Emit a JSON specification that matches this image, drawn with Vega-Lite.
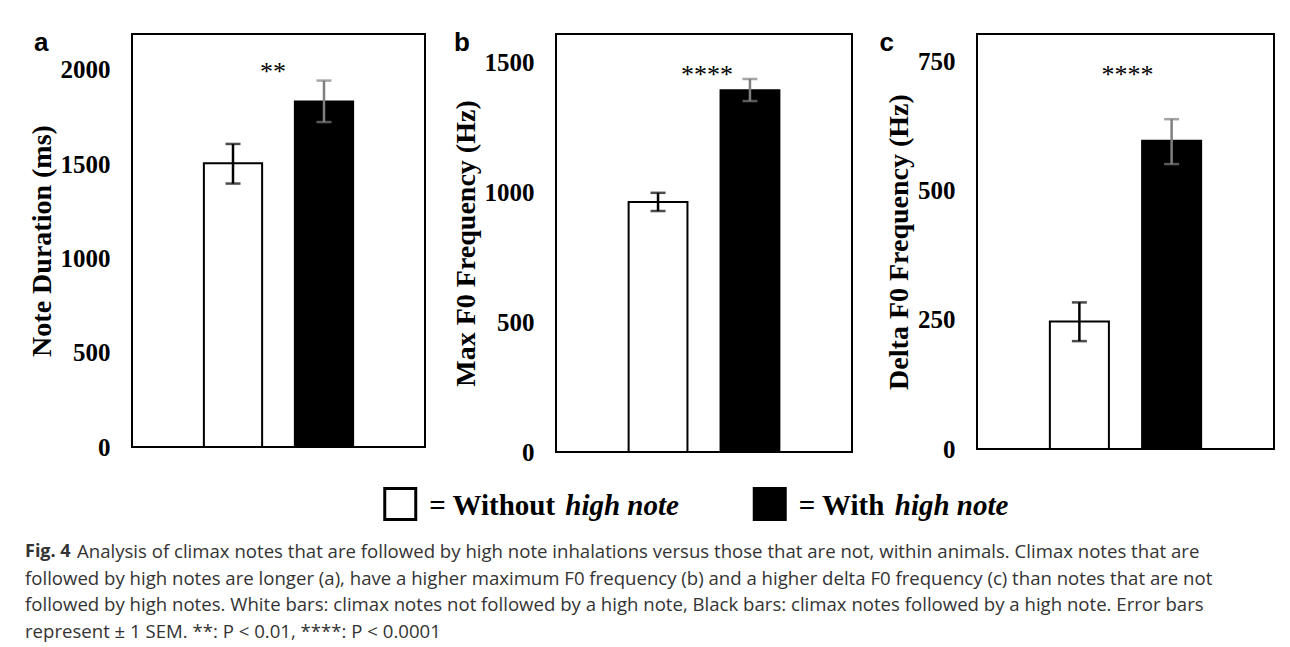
{
  "$schema": "https://vega.github.io/schema/vega-lite/v6.json",
  "background": "white",
  "padding": {"left": 25, "top": 29, "right": 0, "bottom": 0},
  "datasets": {
    "bars": [
      {"panel": "a", "group": "Without", "mean": 1505, "lo": 1397, "hi": 1607},
      {"panel": "a", "group": "With", "mean": 1832, "lo": 1723, "hi": 1943},
      {"panel": "b", "group": "Without", "mean": 962, "lo": 927, "hi": 997},
      {"panel": "b", "group": "With", "mean": 1392, "lo": 1350, "hi": 1435},
      {"panel": "c", "group": "Without", "mean": 247, "lo": 209, "hi": 284},
      {"panel": "c", "group": "With", "mean": 597, "lo": 552, "hi": 639}
    ],
    "sig": [
      {"panel": "a", "group": "Without", "y": 2000, "label": "**"},
      {"panel": "b", "group": "Without", "y": 1460, "label": "****"},
      {"panel": "c", "group": "Without", "y": 728, "label": "****"}
    ],
    "legend": [
      {"group": "Without", "label": "= Without", "em": "high note"},
      {"group": "With", "label": "= With", "em": "high note"}
    ],
    "caption": [
      {"line": 1, "lead": "Fig. 4", "text": "Analysis of climax notes that are followed by high note inhalations versus those that are not, within animals. Climax notes that are"},
      {"line": 2, "lead": "", "text": "followed by high notes are longer (a), have a higher maximum F0 frequency (b) and a higher delta F0 frequency (c) than notes that are not"},
      {"line": 3, "lead": "", "text": "followed by high notes. White bars: climax notes not followed by a high note, Black bars: climax notes followed by a high note. Error bars"},
      {"line": 4, "lead": "", "text": "represent ± 1 SEM. **: P < 0.01, ****: P < 0.0001"}
    ]
  },
  "spacing": 16,
  "vconcat": [
    {
      "spacing": 25,
      "hconcat": [
        {
          "spacing": 25,
          "hconcat": [
            {
              "width": 293, "height": 413,
              "title": {"text": "a", "anchor": "start", "frame": "bounds", "orient": "top", "offset": -43, "baseline": "alphabetic", "font": "Liberation Sans", "fontSize": 26, "fontWeight": "bold", "color": "black", "dx": 6},
              "encoding": {
                "x": {"field": "group", "type": "nominal", "sort": ["Without", "With"], "scale": {"type": "band", "paddingInner": 0.36, "paddingOuter": 0.79}, "axis": null}
              },
              "layer": [
                {
                  "data": {"name": "bars"},
                  "transform": [{"filter": "datum.panel == 'a'"}],
                  "layer": [
                    {"mark": {"type": "bar", "stroke": "black", "strokeWidth": 2},
                     "encoding": {
                       "y": {"field": "mean", "type": "quantitative", "title": "Note Duration (ms)", "scale": {"domain": [0, 2190], "nice": false}, "axis": {"values": [0, 500, 1000, 1500, 2000]}},
                       "fill": {"field": "group", "type": "nominal", "scale": {"domain": ["Without", "With"], "range": ["white", "black"]}, "legend": null}}},
                    {"mark": {"type": "rule", "strokeWidth": 2.5},
                     "encoding": {
                       "y": {"field": "lo", "type": "quantitative", "title": "Note Duration (ms)"}, "y2": {"field": "hi"},
                       "color": {"field": "group", "type": "nominal", "scale": {"domain": ["Without", "With"], "range": ["black", "#7f7f7f"]}, "legend": null}}},
                    {"mark": {"type": "tick", "thickness": 2.5, "size": 15},
                     "encoding": {
                       "y": {"field": "lo", "type": "quantitative", "title": "Note Duration (ms)"},
                       "color": {"field": "group", "type": "nominal", "scale": {"domain": ["Without", "With"], "range": ["black", "#7f7f7f"]}, "legend": null}}},
                    {"mark": {"type": "tick", "thickness": 2.5, "size": 15},
                     "encoding": {
                       "y": {"field": "hi", "type": "quantitative", "title": "Note Duration (ms)"},
                       "color": {"field": "group", "type": "nominal", "scale": {"domain": ["Without", "With"], "range": ["black", "#7f7f7f"]}, "legend": null}}}
                  ]
                },
                {
                  "data": {"name": "sig"},
                  "transform": [{"filter": "datum.panel == 'a'"}],
                  "mark": {"type": "text", "dx": 40, "dy": 2, "baseline": "middle", "font": "Liberation Serif", "fontSize": 26, "color": "black"},
                  "encoding": {
                    "y": {"field": "y", "type": "quantitative", "title": "Note Duration (ms)"},
                    "text": {"field": "label"}
                  }
                }
              ]
            },
            {
              "width": 296, "height": 418,
              "title": {"text": "b", "anchor": "start", "frame": "bounds", "orient": "top", "offset": -43, "baseline": "alphabetic", "font": "Liberation Sans", "fontSize": 26, "fontWeight": "bold", "color": "black", "dx": 2},
              "encoding": {
                "x": {"field": "group", "type": "nominal", "sort": ["Without", "With"], "scale": {"type": "band", "paddingInner": 0.36, "paddingOuter": 0.79}, "axis": null}
              },
              "layer": [
                {
                  "data": {"name": "bars"},
                  "transform": [{"filter": "datum.panel == 'b'"}],
                  "layer": [
                    {"mark": {"type": "bar", "stroke": "black", "strokeWidth": 2},
                     "encoding": {
                       "y": {"field": "mean", "type": "quantitative", "title": "Max F0 Frequency (Hz)", "scale": {"domain": [0, 1608], "nice": false}, "axis": {"values": [0, 500, 1000, 1500]}},
                       "fill": {"field": "group", "type": "nominal", "scale": {"domain": ["Without", "With"], "range": ["white", "black"]}, "legend": null}}},
                    {"mark": {"type": "rule", "strokeWidth": 2.5},
                     "encoding": {
                       "y": {"field": "lo", "type": "quantitative", "title": "Max F0 Frequency (Hz)"}, "y2": {"field": "hi"},
                       "color": {"field": "group", "type": "nominal", "scale": {"domain": ["Without", "With"], "range": ["black", "#7f7f7f"]}, "legend": null}}},
                    {"mark": {"type": "tick", "thickness": 2.5, "size": 15},
                     "encoding": {
                       "y": {"field": "lo", "type": "quantitative", "title": "Max F0 Frequency (Hz)"},
                       "color": {"field": "group", "type": "nominal", "scale": {"domain": ["Without", "With"], "range": ["black", "#7f7f7f"]}, "legend": null}}},
                    {"mark": {"type": "tick", "thickness": 2.5, "size": 15},
                     "encoding": {
                       "y": {"field": "hi", "type": "quantitative", "title": "Max F0 Frequency (Hz)"},
                       "color": {"field": "group", "type": "nominal", "scale": {"domain": ["Without", "With"], "range": ["black", "#7f7f7f"]}, "legend": null}}}
                  ]
                },
                {
                  "data": {"name": "sig"},
                  "transform": [{"filter": "datum.panel == 'b'"}],
                  "mark": {"type": "text", "dx": 49, "dy": 3, "baseline": "middle", "font": "Liberation Serif", "fontSize": 26, "color": "black"},
                  "encoding": {
                    "y": {"field": "y", "type": "quantitative", "title": "Max F0 Frequency (Hz)"},
                    "text": {"field": "label"}
                  }
                }
              ]
            }
          ]
        },
        {
          "width": 297, "height": 415,
          "title": {"text": "c", "anchor": "start", "frame": "bounds", "orient": "top", "offset": -43, "baseline": "alphabetic", "font": "Liberation Sans", "fontSize": 26, "fontWeight": "bold", "color": "black", "dx": -6},
          "encoding": {
            "x": {"field": "group", "type": "nominal", "sort": ["Without", "With"], "scale": {"type": "band", "paddingInner": 0.36, "paddingOuter": 0.79}, "axis": null}
          },
          "layer": [
            {
              "data": {"name": "bars"},
              "transform": [{"filter": "datum.panel == 'c'"}],
              "layer": [
                {"mark": {"type": "bar", "stroke": "black", "strokeWidth": 2},
                 "encoding": {
                   "y": {"field": "mean", "type": "quantitative", "title": "Delta  F0  Frequency (Hz)", "scale": {"domain": [0, 804], "nice": false}, "axis": {"values": [0, 250, 500, 750]}},
                   "fill": {"field": "group", "type": "nominal", "scale": {"domain": ["Without", "With"], "range": ["white", "black"]}, "legend": null}}},
                {"mark": {"type": "rule", "strokeWidth": 2.5},
                 "encoding": {
                   "y": {"field": "lo", "type": "quantitative", "title": "Delta  F0  Frequency (Hz)"}, "y2": {"field": "hi"},
                   "color": {"field": "group", "type": "nominal", "scale": {"domain": ["Without", "With"], "range": ["black", "#7f7f7f"]}, "legend": null}}},
                {"mark": {"type": "tick", "thickness": 2.5, "size": 15},
                 "encoding": {
                   "y": {"field": "lo", "type": "quantitative", "title": "Delta  F0  Frequency (Hz)"},
                   "color": {"field": "group", "type": "nominal", "scale": {"domain": ["Without", "With"], "range": ["black", "#7f7f7f"]}, "legend": null}}},
                {"mark": {"type": "tick", "thickness": 2.5, "size": 15},
                 "encoding": {
                   "y": {"field": "hi", "type": "quantitative", "title": "Delta  F0  Frequency (Hz)"},
                   "color": {"field": "group", "type": "nominal", "scale": {"domain": ["Without", "With"], "range": ["black", "#7f7f7f"]}, "legend": null}}}
              ]
            },
            {
              "data": {"name": "sig"},
              "transform": [{"filter": "datum.panel == 'c'"}],
              "mark": {"type": "text", "dx": 48, "dy": 2, "baseline": "middle", "font": "Liberation Serif", "fontSize": 26, "color": "black"},
              "encoding": {
                "y": {"field": "y", "type": "quantitative", "title": "Delta  F0  Frequency (Hz)"},
                "text": {"field": "label"}
              }
            }
          ]
        }
      ]
    },
    {
      "width": 906, "height": 30,
      "view": {"stroke": null},
      "data": {"name": "legend"},
      "encoding": {
        "x": {"field": "group", "type": "nominal", "sort": ["Without", "With"], "scale": {"type": "point", "padding": 0.726}, "axis": null}
      },
      "layer": [
        {"mark": {"type": "point", "shape": "square", "size": 961, "filled": true, "stroke": "black", "strokeWidth": 3, "opacity": 1, "fillOpacity": 1, "strokeOpacity": 1},
         "encoding": {"fill": {"field": "group", "type": "nominal", "scale": {"domain": ["Without", "With"], "range": ["white", "black"]}, "legend": null}}},
        {"mark": {"type": "text", "align": "left", "baseline": "middle", "dx": 29, "dy": 2, "font": "Liberation Serif", "fontWeight": "bold", "fontSize": 29, "color": "black"},
         "encoding": {"text": {"field": "label"}}},
        {"transform": [{"filter": "datum.group == 'Without'"}],
         "mark": {"type": "text", "align": "left", "baseline": "middle", "dx": 165, "dy": 2, "font": "Liberation Serif", "fontWeight": "bold", "fontStyle": "italic", "fontSize": 29, "color": "black"},
         "encoding": {"text": {"field": "em"}}},
        {"transform": [{"filter": "datum.group == 'With'"}],
         "mark": {"type": "text", "align": "left", "baseline": "middle", "dx": 125, "dy": 2, "font": "Liberation Serif", "fontWeight": "bold", "fontStyle": "italic", "fontSize": 29, "color": "black"},
         "encoding": {"text": {"field": "em"}}}
      ]
    },
    {
      "width": 1100, "height": 96,
      "view": {"stroke": null},
      "data": {"name": "caption"},
      "encoding": {
        "x": {"datum": 0, "type": "quantitative", "scale": {"domain": [0, 1]}, "axis": null},
        "y": {"field": "line", "type": "ordinal", "scale": {"type": "point", "padding": 0.298}, "axis": null}
      },
      "layer": [
        {"transform": [{"filter": "datum.line == 1"}],
         "mark": {"type": "text", "align": "left", "baseline": "middle", "dx": -107, "dy": -2, "font": "Open Sans", "fontWeight": "bold", "fontSize": 18, "color": "#333333"},
         "encoding": {"text": {"field": "lead"}}},
        {"transform": [{"filter": "datum.line == 1"}],
         "mark": {"type": "text", "align": "left", "baseline": "middle", "dx": -55, "dy": -2, "font": "Open Sans", "fontSize": 18.6, "color": "#333333"},
         "encoding": {"text": {"field": "text"}}},
        {"transform": [{"filter": "datum.line > 1"}],
         "mark": {"type": "text", "align": "left", "baseline": "middle", "dx": -107, "dy": -2, "font": "Open Sans", "fontSize": 18.6, "color": "#333333"},
         "encoding": {"text": {"field": "text"}}}
      ]
    }
  ],
  "config": {
    "view": {"stroke": "black", "strokeWidth": 2},
    "axisY": {
      "domain": false, "ticks": false, "grid": false, "format": "d",
      "labelPadding": 22, "labelFont": "Liberation Serif", "labelFontWeight": "bold", "labelFontSize": 25, "labelColor": "black",
      "titleFont": "Liberation Serif", "titleFontWeight": "bold", "titleFontSize": 28, "titleColor": "black", "titlePadding": 4
    }
  }
}
